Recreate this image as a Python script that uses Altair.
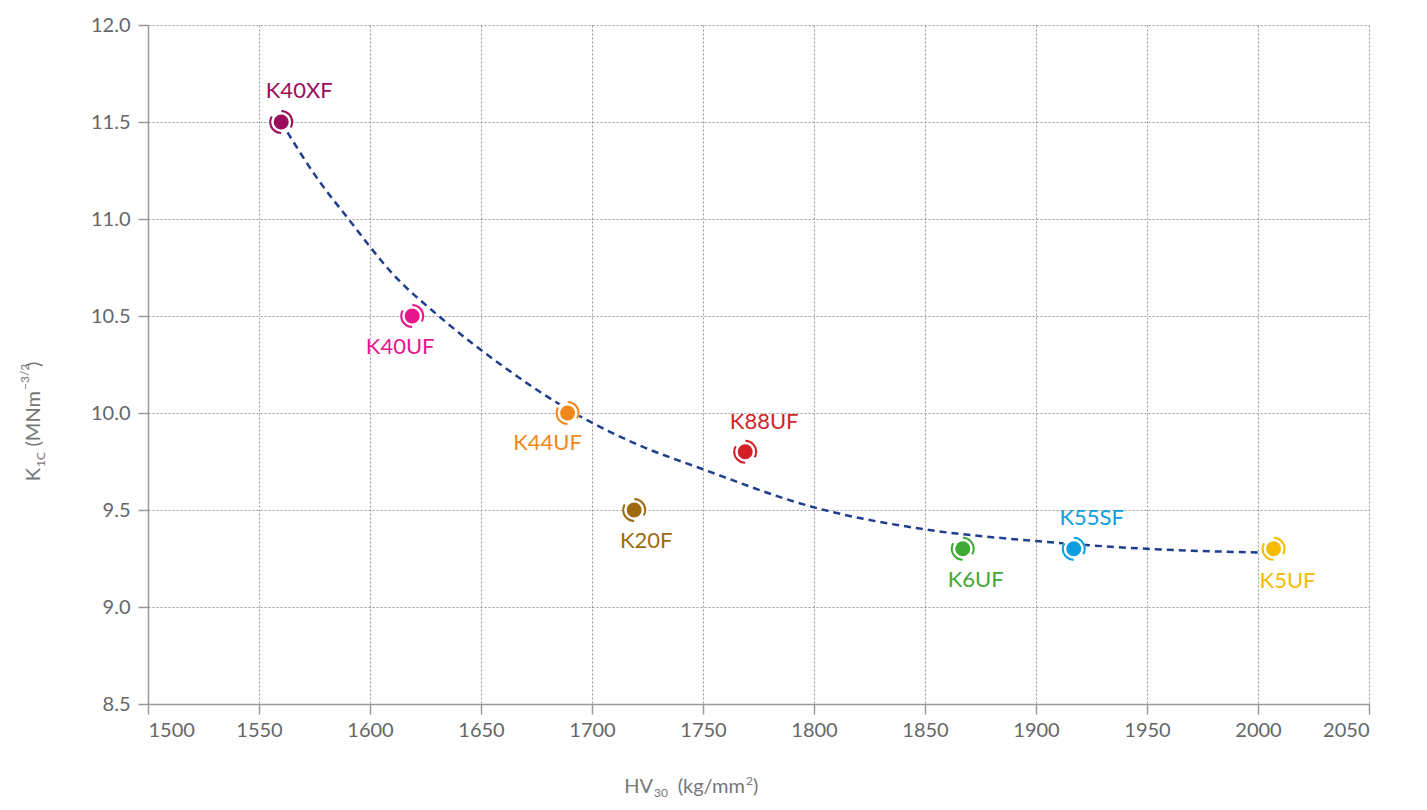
import altair as alt
import pandas as pd

# ---- data ----
names = ["K40XF", "K40UF", "K44UF", "K20F", "K88UF", "K6UF", "K55SF", "K5UF"]
hv = [1560, 1619, 1689, 1719, 1769, 1867, 1917, 2007]
k1c = [11.5, 10.5, 10.0, 9.5, 9.8, 9.3, 9.3, 9.3]
colors = ["#9c0c5c", "#e6168c", "#f0881c", "#9e6a0e", "#d41f26", "#3fa936", "#0a9ee0", "#f4bb00"]

curve_hv = [1560, 1575, 1591, 1610, 1632, 1660, 1692, 1720, 1750, 1798, 1850, 1900, 1950, 2005]
curve_k = [11.5, 11.23, 10.99, 10.72, 10.49, 10.24, 10.0, 9.84, 9.71, 9.52, 9.4, 9.34, 9.30, 9.28]

x_ticks = [1500, 1550, 1600, 1650, 1700, 1750, 1800, 1850, 1900, 1950, 2000, 2050]
y_ticks = [8.5, 9.0, 9.5, 10.0, 10.5, 11.0, 11.5, 12.0]

# label offsets (style, not data)
label_dx = [18, -12, -20, 12, 19, 13, 18, 14]
label_dy = [-31, 31, 30, 31, -30, 31, -31, 32]

FONT = "Lato"

pts = pd.DataFrame({"name": names, "hv": hv, "k": k1c})
curve = pd.DataFrame({"hv": curve_hv, "k": curve_k})

xs = alt.Scale(domain=[1500, 2050], nice=False, zero=False)
ys = alt.Scale(domain=[8.5, 12.0], nice=False, zero=False)
X = alt.X("hv:Q", scale=xs, axis=alt.Axis(values=x_ticks, title=None, format="d"))
Y = alt.Y("k:Q", scale=ys, axis=alt.Axis(values=y_ticks, title=None, format=".1f"))
C = alt.Color("name:N", scale=alt.Scale(domain=names, range=colors), legend=None)

line = alt.Chart(curve).mark_line(
    color="#1f3e8e", strokeDash=[7, 5], strokeWidth=2.5, interpolate="monotone"
).encode(x=X, y=Y)

base = alt.Chart(pts)
halo = base.mark_point(shape="circle", filled=True, color="white", opacity=1, size=576).encode(x=X, y=Y)
ring = base.mark_point(shape="circle", filled=False, opacity=1, size=484, strokeWidth=2,
                       strokeDash=[23, 11.5], strokeDashOffset=17.3).encode(x=X, y=Y, color=C)
inner = base.mark_point(shape="circle", filled=True, opacity=1, size=225).encode(x=X, y=Y, color=C)

labels = []
for i, n in enumerate(names):
    labels.append(
        base.transform_filter(alt.datum.name == n).mark_text(
            font=FONT, fontSize=22, dx=label_dx[i], dy=label_dy[i], align="center", baseline="middle"
        ).encode(x=X, y=Y, color=C, text="name:N")
    )

def piece(txt, x, y, size=20, align="left", angle=None):
    kw = dict(text=txt, font=FONT, fontSize=size, color="#777", align=align, baseline="alphabetic")
    if angle is not None:
        kw["angle"] = angle
    return alt.Chart(pts).transform_filter(alt.datum.name == names[0]).mark_text(**kw).encode(
        x=alt.value(x), y=alt.value(y))

titles = [
    piece("HV", 505, 768, 20, "right"),
    piece("30", 506, 772, 12, "left"),
    piece("(kg/mm", 597, 768, 20, "right"),
    piece("2", 598, 760, 12, "left"),
    piece(")", 605, 768, 20, "left"),
    piece("K", -108, 443, 20, "right", 270),
    piece("1C", -103, 442, 12, "left", 270),
    piece("(MNm", -108, 366, 20, "right", 270),
    piece("\u22123/2", -119, 365, 12, "left", 270),
    piece(")", -108, 342, 20, "left", 270),
]

chart = alt.layer(line, halo, ring, inner, *labels, *titles).properties(
    width=1221, height=679,
    autosize=alt.AutoSizeParams(type="none"),
    padding={"left": 140, "top": 17, "right": 50, "bottom": 98},
).configure_view(strokeWidth=0).configure_axis(
    labelFont=FONT, labelFontSize=20, labelColor="#666",
    domainColor="#999", domainWidth=1.5,
    tickColor="#999", tickWidth=1.5, tickSize=10,
    gridColor="#999", gridDash=[2, 2], gridWidth=1,
).configure_axisY(labelPadding=8).configure_axisX(labelPadding=6)

chart.save("out.html", embed_options={"renderer": "svg", "actions": False})
